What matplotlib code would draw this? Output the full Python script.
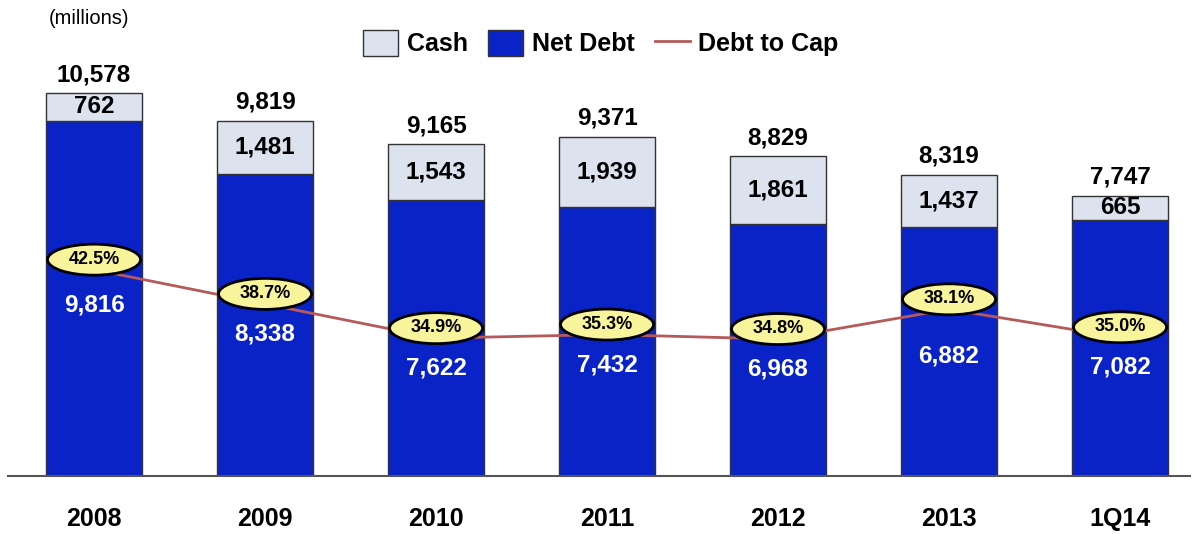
import matplotlib.pyplot as plt
from matplotlib.patches import Ellipse, Patch
from matplotlib.lines import Line2D
from matplotlib.transforms import ScaledTranslation

plt.rcParams['font.family'] = ['Liberation Sans', 'DejaVu Sans']

periods = ['2008', '2009', '2010', '2011', '2012', '2013', '1Q14']
net_debt = [9816, 8338, 7622, 7432, 6968, 6882, 7082]
cash = [762, 1481, 1543, 1939, 1861, 1437, 665]
totals = [10578, 9819, 9165, 9371, 8829, 8319, 7747]
debt_to_cap = [42.5, 38.7, 34.9, 35.3, 34.8, 38.1, 35.0]

BLUE = '#0a23c6'
CASH = '#dde3ee'
EDGE = '#333333'
LINE = '#b55a5a'

Y_MAX = 12320
CAP_LIM = (19.6, 69.1)

fig = plt.figure(figsize=(12, 5.34), dpi=100)
ax = fig.add_axes([8 / 1200, 1 - 476 / 534, 1182 / 1200, 446 / 534])

x = list(range(len(periods)))
w = 0.56
ax.bar(x, net_debt, w, color=BLUE, edgecolor=EDGE, linewidth=1, zorder=2)
ax.bar(x, cash, w, bottom=net_debt, color=CASH, edgecolor=EDGE, linewidth=1, zorder=2)

ax.set_xlim(-0.503, 6.409)
ax.set_ylim(0, Y_MAX)
for s in ['top', 'left', 'right']:
    ax.spines[s].set_visible(False)
ax.spines['bottom'].set_color('#555555')
ax.spines['bottom'].set_linewidth(1.5)
ax.set_yticks([])
ax.set_xticks(x)
ax.set_xticklabels(periods, fontsize=18, fontweight='bold')
ax.tick_params(axis='x', length=0, pad=22)


def cap_on_primary(v):
    # map a debt-to-cap value onto the left axis scale
    return (v - CAP_LIM[0]) / (CAP_LIM[1] - CAP_LIM[0]) * Y_MAX


px = Y_MAX / 446  # data units per pixel on the left axis
for i in x:
    ax.annotate(f'{totals[i]:,}', (i, totals[i]), xytext=(0, 5), textcoords='offset points',
                ha='center', va='bottom', fontsize=17.5, fontweight='bold')
    ax.text(i, net_debt[i] + cash[i] / 2, f'{cash[i]:,}', ha='center', va='center',
            fontsize=17.5, fontweight='bold', zorder=3)
    # keep the net debt label clear of the ratio bubble
    y_lab = min(net_debt[i] * 0.48, cap_on_primary(debt_to_cap[i]) - 30 * px)
    ax.text(i, y_lab, f'{net_debt[i]:,}', ha='center', va='center',
            fontsize=17.5, fontweight='bold', color='white', zorder=3)

# debt to cap on its own scale
ax2 = ax.twinx()
ax2.set_ylim(*CAP_LIM)
ax2.axis('off')
ax2.plot(x, debt_to_cap, color=LINE, linewidth=2, zorder=2)
for i, v in zip(x, debt_to_cap):
    tr = fig.dpi_scale_trans + ScaledTranslation(i, v, ax2.transData)
    ax2.add_patch(Ellipse((0, 0.1), 0.93, 0.31, transform=tr, facecolor='#f8f49c',
                          edgecolor='black', linewidth=2, zorder=4))
    ax2.annotate(f'{v:.1f}%', (i, v), xytext=(0, 7.5), textcoords='offset points',
                 ha='center', va='center', fontsize=13, fontweight='bold', zorder=5)

fig.text(89 / 1200, 1 - 18 / 534, '(millions)', ha='center', va='center', fontsize=14.5)

handles = [Patch(facecolor=CASH, edgecolor=EDGE, label='Cash'),
           Patch(facecolor=BLUE, edgecolor=EDGE, label='Net Debt'),
           Line2D([], [], color=LINE, linewidth=2, label='Debt to Cap')]
fig.legend(handles=handles, loc='center', bbox_to_anchor=(601 / 1200, 1 - 43 / 534),
           ncol=3, frameon=False, handlelength=1.4, handleheight=1.2,
           handletextpad=0.35, columnspacing=0.8, prop={'size': 18, 'weight': 'bold'})

fig.savefig('out.png', dpi=100)
